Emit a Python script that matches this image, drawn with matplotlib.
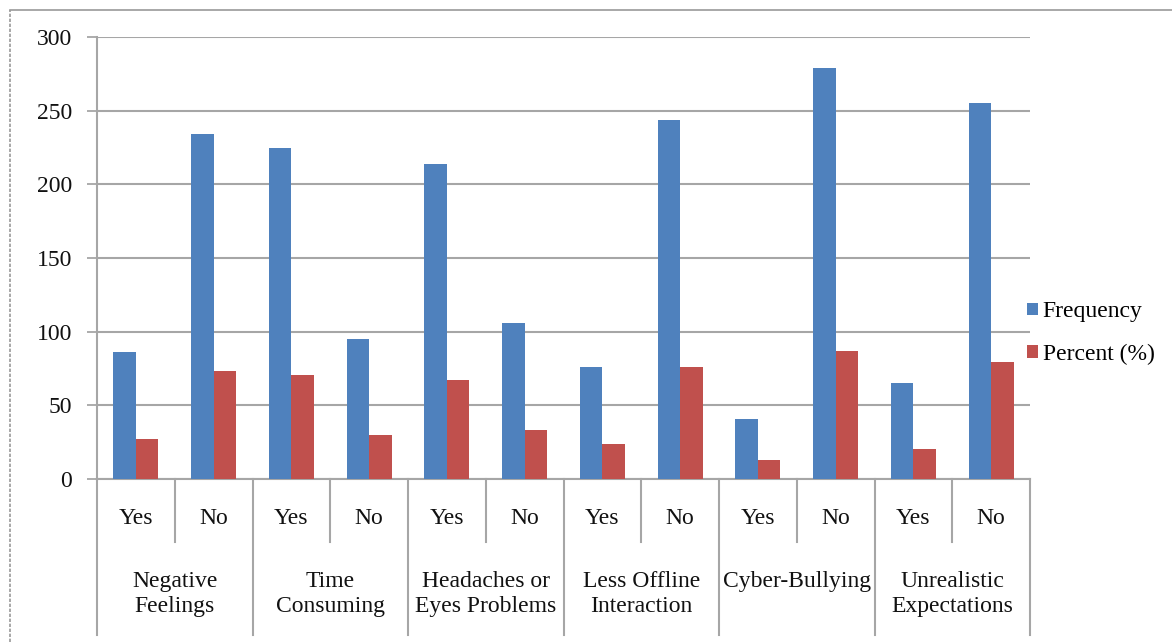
import matplotlib
matplotlib.use("Agg")
import matplotlib.pyplot as plt
from matplotlib.lines import Line2D
from matplotlib.patches import Patch
import matplotlib.transforms as mtransforms

# Survey data: responses per effect of social media use
groups = ["Negative\nFeelings", "Time\nConsuming", "Headaches or\nEyes Problems",
          "Less Offline\nInteraction", "Cyber-Bullying", "Unrealistic\nExpectations"]
answers = ["Yes", "No"]
frequency = [86, 234, 225, 95, 214, 106, 76, 244, 41, 279, 65, 255]
percent = [26.9, 73.1, 70.3, 29.7, 66.9, 33.1, 23.8, 76.2, 12.8, 87.2, 20.3, 79.7]
y_ticks = [0, 50, 100, 150, 200, 250, 300]

BLUE = "#4F81BD"
RED = "#C0504D"
GRID = "#a6a6a6"
FONT = "Liberation Serif"
FS = 17

W, H = 1172, 642
fig = plt.figure(figsize=(W / 100, H / 100), dpi=100)

left, right, top, bottom = 97, 1030, 37, 479
ax = fig.add_axes([left / W, (H - bottom) / H, (right - left) / W, (bottom - top) / H])

n = len(frequency)
xs = list(range(n))
bw = 0.288
ax.bar([x - bw / 2 for x in xs], frequency, width=bw, color=BLUE, label="Frequency", zorder=3)
ax.bar([x + bw / 2 for x in xs], percent, width=bw, color=RED, label="Percent (%)", zorder=3)

ax.set_xlim(-0.5, n - 0.5)
ax.set_ylim(0, 300)
ax.set_yticks(y_ticks)
ax.set_yticklabels([str(t) for t in y_ticks], fontfamily=FONT, fontsize=FS, color="#111111")
ax.tick_params(axis="y", length=7, width=1.3, color=GRID, pad=11)
ax.set_xticks([])
ax.yaxis.grid(True, color=GRID, linewidth=1.5, zorder=0)
for s in ["top", "right"]:
    ax.spines[s].set_visible(False)
for s in ["left", "bottom"]:
    ax.spines[s].set_color(GRID)
    ax.spines[s].set_linewidth(1.5)

# Two-level category axis below the plot
trans = mtransforms.blended_transform_factory(ax.transData, ax.transAxes)
ph = bottom - top
inner_y = -(542 - bottom) / ph
outer_y = -(635 - bottom) / ph
for g in range(len(groups)):
    xb = 2 * g - 0.5
    ax.add_line(Line2D([xb, xb], [0, outer_y], transform=trans, color=GRID,
                       linewidth=1.5, clip_on=False))
    xm = 2 * g + 0.5
    ax.add_line(Line2D([xm, xm], [0, inner_y], transform=trans, color=GRID,
                       linewidth=1.5, clip_on=False))
ax.add_line(Line2D([n - 0.5, n - 0.5], [0, outer_y], transform=trans, color=GRID,
                   linewidth=1.5, clip_on=False))

ans_y = -(518 - bottom) / ph
for i in xs:
    ax.text(i, ans_y, answers[i % 2], transform=trans, ha="center", va="center",
            fontfamily=FONT, fontsize=FS, color="#111111")
grp_y = -(571 - bottom) / ph
for g, name in enumerate(groups):
    ax.text(2 * g + 0.5, grp_y, name, transform=trans, ha="center", va="top",
            fontfamily=FONT, fontsize=FS, color="#111111", linespacing=1.28)

# Legend
handles = [Patch(facecolor=BLUE), Patch(facecolor=RED)]
fig.legend(handles, ["Frequency", "Percent (%)"], loc="upper left",
           bbox_to_anchor=(1018 / W, 1 - 292 / H), frameon=False,
           prop={"family": FONT, "size": FS}, handlelength=0.45, handleheight=0.45,
           handletextpad=0.2, labelspacing=0.9, borderaxespad=0)

# Outer frame (top and left edges)
fig.add_artist(Line2D([10 / W, 1], [1 - 10 / H, 1 - 10 / H], transform=fig.transFigure,
                      color="#9a9a9a", linewidth=1.2))
fig.add_artist(Line2D([10 / W, 10 / W], [0, 1 - 10 / H], transform=fig.transFigure,
                      color="#9a9a9a", linewidth=1.2, linestyle=(0, (2, 1))))

fig.savefig("out.png", dpi=100)
